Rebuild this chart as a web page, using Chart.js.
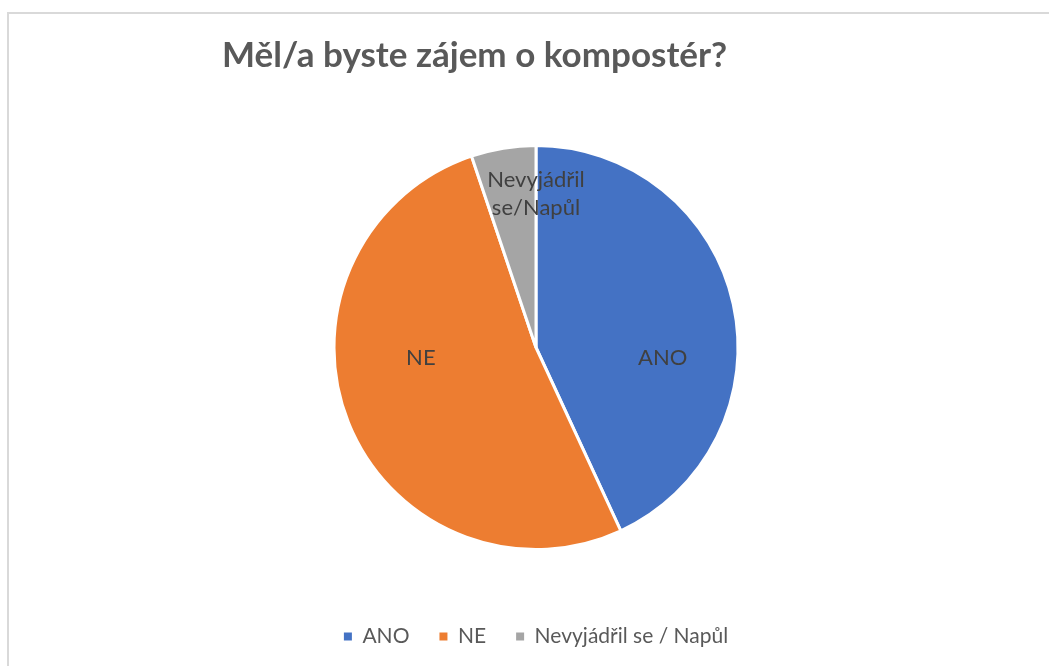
<!DOCTYPE html>
<html lang="cs">
<head>
    <meta charset="UTF-8">
    <title>Měl/a byste zájem o kompostér?</title>
    <style>
        html, body { margin: 0; padding: 0; background: #fff; overflow: hidden; }
        #frame {
            position: absolute; left: 7px; top: 12px;
            width: 1060px; height: 670px;
            border: 2px solid #d9d9d9;
        }
        #wrap { position: absolute; left: 0; top: 0; width: 1049px; height: 666px; }
    </style>
</head>
<body>
    <div id="frame"></div>
    <div id="wrap">
        <canvas id="pieChart" width="1049" height="666"></canvas>
    </div>

    <script src="https://cdn.jsdelivr.net/npm/chart.js"></script>

    <script>
        // categories and answers
        const categories = ['ANO', 'NE', 'Nevyjádřil se / Napůl'];
        const sliceLabels = [['ANO'], ['NE'], ['Nevyjádřil', 'se/Napůl']];
        const answers = [25, 30, 3];
        const sliceColors = ['#4472C4', '#ED7D31', '#A5A5A5'];

        // draws the category names inside the slices
        const sliceLabelPlugin = {
            id: 'sliceLabels',
            afterDatasetsDraw(chart, args, opts) {
                const ctx = chart.ctx;
                const arcs = chart.getDatasetMeta(0).data;
                ctx.save();
                ctx.font = opts.font;
                ctx.fillStyle = opts.color;
                ctx.textAlign = 'center';
                ctx.textBaseline = 'middle';
                arcs.forEach((arc, i) => {
                    const off = opts.offsets[i];
                    const x = arc.x + off[0] * arc.outerRadius;
                    const y = arc.y + off[1] * arc.outerRadius;
                    const lines = sliceLabels[i];
                    lines.forEach((line, j) => {
                        ctx.fillText(line, x, y + (j - (lines.length - 1) / 2) * opts.lineHeight);
                    });
                });
                ctx.restore();
            }
        };

        // legend squares without the white slice border
        const defaultLabels = Chart.overrides.pie.plugins.legend.labels.generateLabels;

        const ctx = document.getElementById('pieChart').getContext('2d');
        const pieChart = new Chart(ctx, {
            type: 'pie',
            data: {
                labels: categories,
                datasets: [{
                    data: answers,
                    backgroundColor: sliceColors,
                    borderColor: '#ffffff',
                    borderWidth: 3,
                    hoverOffset: 0
                }]
            },
            plugins: [sliceLabelPlugin],
            options: {
                responsive: false,
                animation: false,
                events: [],
                layout: {
                    padding: { left: 222, right: 199, top: 0, bottom: 9 }
                },
                plugins: {
                    title: {
                        display: true,
                        text: 'Měl/a byste zájem o kompostér?',
                        align: 'start',
                        color: '#595959',
                        font: { family: 'Lato', size: 35, weight: 'bold', lineHeight: 1.2 },
                        padding: { top: 35, bottom: 67 }
                    },
                    legend: {
                        position: 'bottom',
                        title: {
                            display: true,
                            text: '',
                            font: { size: 10, lineHeight: 1 },
                            padding: { top: 17, bottom: 18 }
                        },
                        labels: {
                            color: '#595959',
                            font: { family: 'Lato', size: 21 },
                            boxWidth: 8,
                            boxHeight: 8,
                            padding: 30,
                            generateLabels: (chart) =>
                                defaultLabels(chart).map(item => ({ ...item, lineWidth: 0 }))
                        }
                    },
                    tooltip: { enabled: false },
                    sliceLabels: {
                        font: '22px Lato',
                        color: '#404040',
                        lineHeight: 28,
                        offsets: [[0.627, 0.05], [-0.57, 0.05], [0, -0.76]]
                    }
                }
            }
        });
    </script>
</body>
</html>
